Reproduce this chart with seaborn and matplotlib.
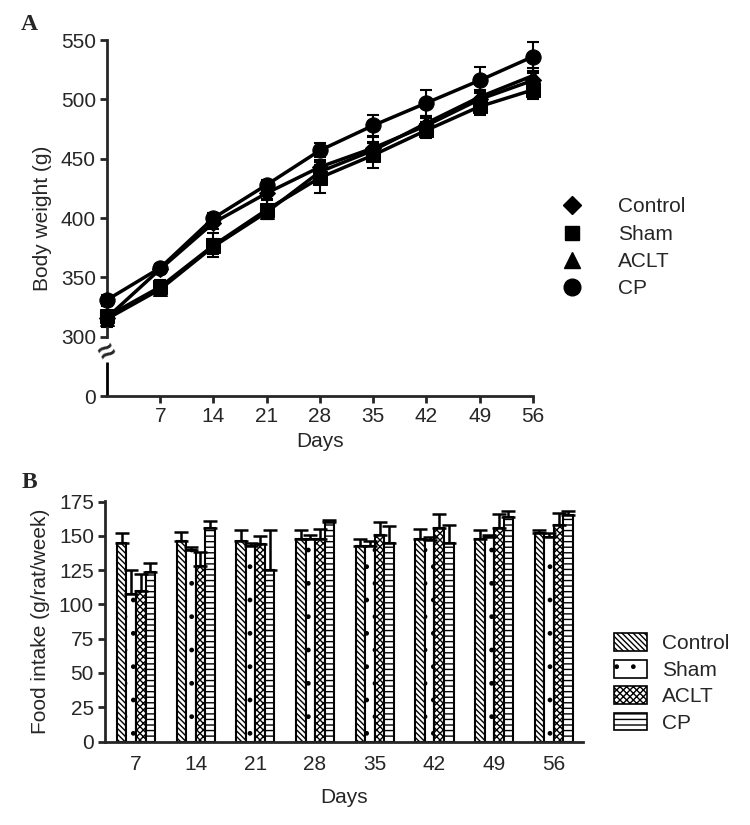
"""
Body weight (A) and weekly food intake (B) for the four groups.
"""

import numpy as np
import pandas as pd
import matplotlib
matplotlib.use("Agg")
import matplotlib.pyplot as plt
from matplotlib.lines import Line2D
from matplotlib.patches import Patch
import seaborn as sns

GROUPS = ["Control", "Sham", "ACLT", "CP"]
MARKERS = {"Control": "D", "Sham": "s", "ACLT": "^", "CP": "o"}
MARKER_SIZE = {"D": 8, "s": 9.5, "^": 10, "o": 11}
HATCHES = {"Control": "\\\\\\\\\\\\", "Sham": ".", "ACLT": "xxxxx", "CP": "---"}

# ---------------------------------------------------------------------------
# Panel A data: body weight (g), mean and SEM
# ---------------------------------------------------------------------------
BW_DAYS = [0, 7, 14, 21, 28, 35, 42, 49, 56]
BW_CONTROL = [316, 357, 396, 421, 443, 459, 478, 500, 516]
BW_SHAM = [317, 342, 377, 407, 434, 453, 474, 494, 508]
BW_ACLT = [315, 340, 376, 405, 439, 457, 480, 502, 520]
BW_CP = [331, 358, 400, 428, 457, 478, 497, 516, 536]
BW_CONTROL_ERR = [5, 4, 5, 5, 6, 9, 6, 6, 6]
BW_SHAM_ERR = [9, 6, 10, 8, 13, 11, 7, 7, 8]
BW_ACLT_ERR = [6, 5, 6, 6, 6, 6, 6, 6, 6]
BW_CP_ERR = [4, 3, 4, 4, 6, 9, 11, 11, 12]

# ---------------------------------------------------------------------------
# Panel B data: food intake (g/rat/week), mean and upper SEM
# ---------------------------------------------------------------------------
FI_DAYS = ["7", "14", "21", "28", "35", "42", "49", "56"]
FI_CONTROL = [145, 146, 146, 148, 143, 148, 148, 152]
FI_SHAM = [108, 140, 143, 148, 143, 147, 149, 149]
FI_ACLT = [110, 128, 144, 148, 151, 156, 156, 158]
FI_CP = [124, 156, 125, 160, 145, 145, 164, 165]
FI_CONTROL_ERR = [7, 7, 8, 6, 5, 7, 6, 2]
FI_SHAM_ERR = [17, 2, 2, 3, 3, 2, 2, 3]
FI_ACLT_ERR = [12, 10, 6, 7, 9, 10, 10, 9]
FI_CP_ERR = [6, 5, 29, 2, 12, 13, 4, 3]

BREAK_ZERO = 250  # where "0" sits on the broken axis of panel A

sns.set_style("ticks")
plt.rcParams["font.family"] = ["Liberation Sans", "DejaVu Sans"]
plt.rcParams["font.size"] = 15
plt.rcParams["hatch.linewidth"] = 1.0
plt.rcParams["axes.linewidth"] = 2.0

fig = plt.figure(figsize=(7.5, 8.25), dpi=100)
ax_a = fig.add_axes([107 / 750, 1 - 396 / 825, 426 / 750, 356 / 825])
ax_b = fig.add_axes([105 / 750, 1 - 741.5 / 825, 478 / 750, 240.5 / 825])

# ---------------------------------------------------------------------------
# Panel A
# ---------------------------------------------------------------------------
bw = pd.DataFrame({
    "day": BW_DAYS * 4,
    "weight": BW_CONTROL + BW_SHAM + BW_ACLT + BW_CP,
    "err": BW_CONTROL_ERR + BW_SHAM_ERR + BW_ACLT_ERR + BW_CP_ERR,
    "group": np.repeat(GROUPS, len(BW_DAYS)),
})

for g in GROUPS:
    sub = bw[bw["group"] == g]
    ax_a.errorbar(sub["day"], sub["weight"], yerr=sub["err"], fmt="none",
                  ecolor="black", elinewidth=1.5, capsize=4, capthick=1.5,
                  clip_on=False, zorder=2)

sns.lineplot(data=bw, x="day", y="weight", hue="group", style="group",
             hue_order=GROUPS, style_order=GROUPS,
             palette={g: "black" for g in GROUPS}, markers=MARKERS,
             dashes=False, linewidth=2.5, markeredgecolor="black",
             errorbar=None, legend=False, ax=ax_a, zorder=3)
for line in ax_a.lines:
    line.set_clip_on(False)
    m = line.get_marker()
    if m in MARKER_SIZE:
        line.set_markersize(MARKER_SIZE[m])

ax_a.set_xlim(0, 56)
ax_a.set_ylim(BREAK_ZERO, 550)
ax_a.set_xticks(BW_DAYS[1:])
ax_a.set_yticks([BREAK_ZERO, 300, 350, 400, 450, 500, 550])
ax_a.set_yticklabels(["0", "300", "350", "400", "450", "500", "550"])
ax_a.set_xlabel("Days", labelpad=4)
ax_a.set_ylabel("Body weight (g)", labelpad=6)
ax_a.tick_params(direction="out", length=5, width=2, pad=3)
sns.despine(ax=ax_a)
ax_a.spines["left"].set_bounds(300, 550)
ax_a.plot([0, 0], [BREAK_ZERO, 279], color="black", lw=2.0,
          solid_capstyle="butt", clip_on=False)
ax_a.text(0, 287, "≈", rotation=30, ha="center", va="center",
          fontsize=21, fontweight="bold")

handles_a = [Line2D([], [], marker=MARKERS[g], color="black", ls="none",
                    markersize=MARKER_SIZE[MARKERS[g]] + 1) for g in GROUPS]
fig.legend(handles_a, GROUPS, loc="center left",
           bbox_to_anchor=(543 / 750, 1 - 248 / 825), frameon=False,
           handlelength=1.0, handletextpad=1.7, labelspacing=0.4,
           fontsize=15)

fig.text(29 / 750, 1 - 25 / 825, "A", family="Liberation Serif",
         fontweight="bold", fontsize=17, ha="center", va="center")
fig.text(29 / 750, 1 - 483 / 825, "B", family="Liberation Serif",
         fontweight="bold", fontsize=17, ha="center", va="center")

# ---------------------------------------------------------------------------
# Panel B
# ---------------------------------------------------------------------------
fi = pd.DataFrame({
    "day": FI_DAYS * 4,
    "intake": FI_CONTROL + FI_SHAM + FI_ACLT + FI_CP,
    "err": FI_CONTROL_ERR + FI_SHAM_ERR + FI_ACLT_ERR + FI_CP_ERR,
    "group": np.repeat(GROUPS, len(FI_DAYS)),
})

sns.barplot(data=fi, x="day", y="intake", hue="group", hue_order=GROUPS,
            order=FI_DAYS, palette={g: "white" for g in GROUPS},
            saturation=1, width=0.64, edgecolor="black", linewidth=1.5,
            errorbar=None, legend=False, ax=ax_b)

for g, cont in zip(GROUPS, ax_b.containers):
    sub = fi[fi["group"] == g]
    xs = []
    for bar in cont:
        bar.set_hatch(HATCHES[g])
        xs.append(bar.get_x() + bar.get_width() / 2)
    errs = sub["err"].to_numpy()
    ax_b.errorbar(xs, sub["intake"], yerr=[np.zeros_like(errs), errs],
                  fmt="none", ecolor="black", elinewidth=1.8, capsize=5,
                  capthick=1.8, zorder=1)

ax_b.set_xlim(-0.52, 7.49)
ax_b.set_ylim(0, 175.5)
ax_b.set_yticks(range(0, 176, 25))
ax_b.set_xlabel("Days", labelpad=10)
ax_b.set_ylabel("Food intake (g/rat/week)", labelpad=6)
ax_b.tick_params(axis="y", direction="out", length=5, width=2, pad=3)
ax_b.tick_params(axis="x", length=0, pad=10)
sns.despine(ax=ax_b)

handles_b = [Patch(facecolor="white", edgecolor="black", hatch=HATCHES[g],
                   linewidth=1.2) for g in GROUPS]
fig.legend(handles_b, GROUPS, loc="center left",
           bbox_to_anchor=(595 / 750, 1 - 683 / 825), frameon=False,
           handlelength=1.6, handleheight=0.95, handletextpad=0.7,
           labelspacing=0.3, fontsize=15)

fig.savefig("out.png", dpi=100)
